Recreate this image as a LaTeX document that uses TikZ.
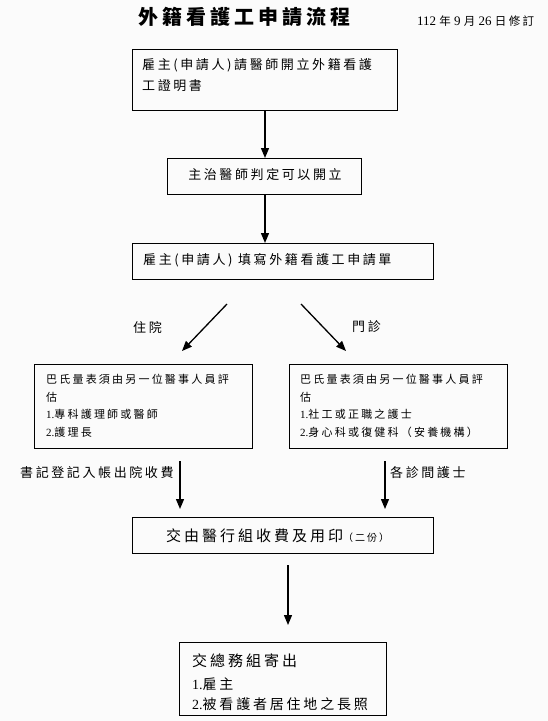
\documentclass[tikz,border=0pt]{standalone}
\usepackage{fontspec}
\setmainfont{Liberation Serif}
\newfontfamily\cjk[LetterSpace=20]{Noto Sans CJK TC}
\newfontfamily\lat{Liberation Serif}
\usetikzlibrary{arrows.meta}
\newcommand\fs[1]{\fontsize{#1}{#1}\selectfont\cjk}
\begin{document}
\begin{tikzpicture}[x=1pt,y=-1pt,
  box/.style={draw,line width=1.2pt,inner sep=0,anchor=north west},
  arr/.style={line width=1.3pt,-{Triangle[length=10pt,width=8pt]}},
  txt/.style={anchor=west,inner sep=0},
  ctxt/.style={inner sep=0}]
\fill[gray!3] (0,0) rectangle (548,721);
\useasboundingbox (0,0) rectangle (548,721);
% title
\node[ctxt,font={\fs{20}\bfseries}] (title) at (244,17) {外籍看護工申請流程};
\node[txt,font=\fs{11.5}] (date) at (417,21) {{\lat\fontsize{13}{13}\selectfont 112 }年{\lat\fontsize{13}{13}\selectfont\ 9 }月{\lat\fontsize{13}{13}\selectfont\ 26 }日修訂};
% box 1
\node[box,minimum width=265pt,minimum height=61pt] (b1) at (132,49) {};
\node[txt,font=\fs{13}] (t1a) at (142,65) {雇主(申請人)請醫師開立外籍看護};
\node[txt,font=\fs{13}] (t1b) at (142,86) {工證明書};
% box 2
\node[box,minimum width=194pt,minimum height=36pt] (b2) at (167,158) {};
\node[ctxt,font=\fs{13}] (t2) at (265,175) {主治醫師判定可以開立};
% box 3
\node[box,minimum width=301pt,minimum height=36pt] (b3) at (132,243) {};
\node[txt,font=\fs{13}] (t3) at (143,260) {雇主(申請人) 填寫外籍看護工申請單};
\draw[arr] (b1.south -| t2) -- (b2.north -| t2);
\draw[arr] (b2.south -| t2) -- (b3.north -| t2);
% branches
\coordinate (l1) at (227,304);
\coordinate (l2) at (182,351);
\coordinate (r1) at (301,304);
\coordinate (r2) at (346,351);
\draw[arr] (l1) -- (l2);
\draw[arr] (r1) -- (r2);
\node[txt,font=\fs{13}] (zy) at (133,327) {住院};
\node[txt,font=\fs{13}] (mz) at (352,327) {門診};
% box 4
\node[box,minimum width=218pt,minimum height=84pt] (b4) at (34,364) {};
\node[txt,font=\fs{11}] (t4a) at (46,379) {巴氏量表須由另一位醫事人員評};
\node[txt,font=\fs{11}] (t4b) at (46,397) {估};
\node[txt,font=\fs{11}] (t4c) at (46,414) {{\lat 1.}專科護理師或醫師};
\node[txt,font=\fs{11}] (t4d) at (46,432) {{\lat 2.}護理長};
% box 5
\node[box,minimum width=218pt,minimum height=84pt] (b5) at (289,364) {};
\node[txt,font=\fs{11}] (t5a) at (300,379) {巴氏量表須由另一位醫事人員評};
\node[txt,font=\fs{11}] (t5b) at (300,397) {估};
\node[txt,font=\fs{11}] (t5c) at (300,414) {{\lat 1.}社工或正職之護士};
\node[txt,font=\fs{11}] (t5d) at (300,432) {{\lat 2.}身心科或復健科（安養機構）};
% box 6
\node[box,minimum width=301pt,minimum height=36pt] (b6) at (132,517) {};
\node[txt] (t6) at (166,536) {{\fs{15}交由醫行組收費及用印}{\fs{10}（二份）}};
\coordinate (a1) at (180,461);
\coordinate (a2) at (180,509);
\coordinate (a3) at (385,461);
\coordinate (a4) at (385,509);
\draw[arr] (a1) -- (a2);
\draw[arr] (a3) -- (a4);
\node[txt,font=\fs{13}] (lab1) at (20,473) {書記登記入帳出院收費};
\node[txt,font=\fs{13}] (lab2) at (390,473) {各診間護士};
% box 7
\node[box,minimum width=207pt,minimum height=73pt] (b7) at (179,642) {};
\coordinate (a5) at (288,565);
\coordinate (a6) at (288,625);
\draw[arr] (a5) -- (a6);
\node[txt,font=\fs{15}] (t7a) at (192,661) {交總務組寄出};
\node[txt,font=\fs{14}] (t7b) at (192,684) {{\lat 1.}雇主};
\node[txt,font=\fs{14}] (t7c) at (192,704) {{\lat 2.}被看護者居住地之長照};
\end{tikzpicture}
\end{document}
